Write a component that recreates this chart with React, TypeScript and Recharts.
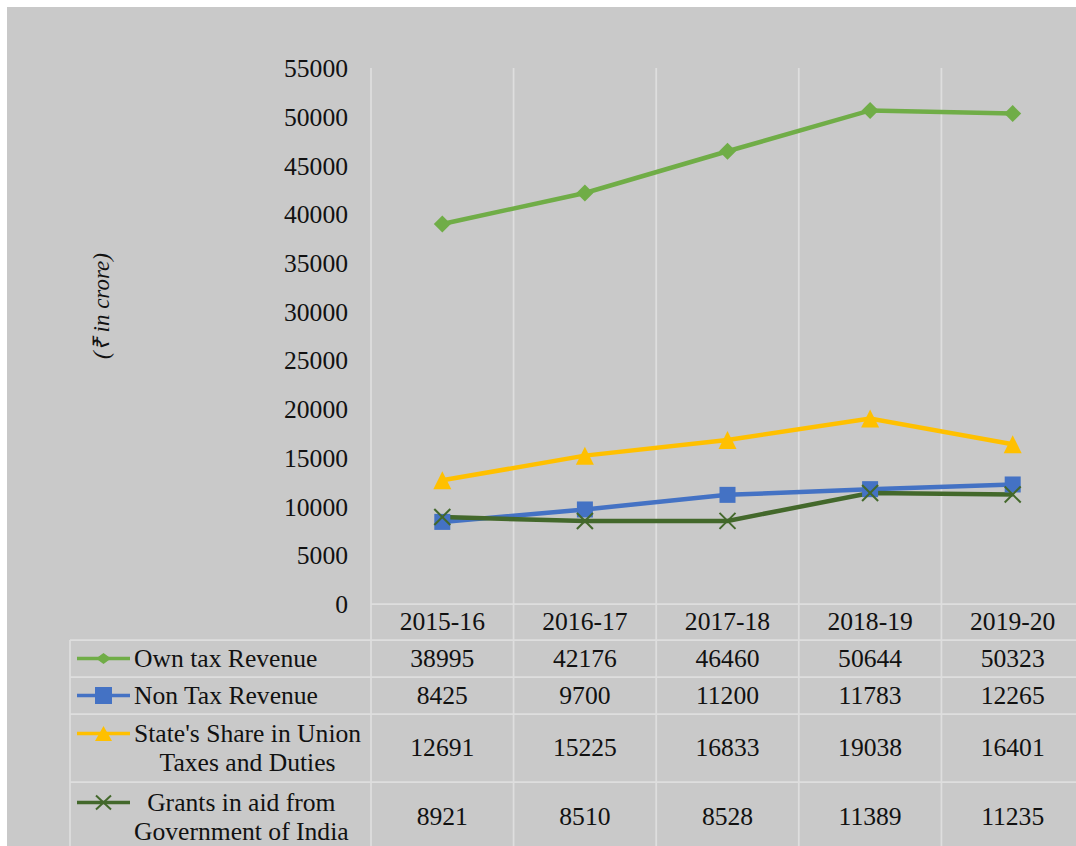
import React from 'react';
import { LineChart, Line, XAxis, YAxis, CartesianGrid } from 'recharts';

const YEARS = ['2015-16', '2016-17', '2017-18', '2018-19', '2019-20'];
const OWN_TAX = [38995, 42176, 46460, 50644, 50323];
const NON_TAX = [8425, 9700, 11200, 11783, 12265];
const UNION_SHARE = [12691, 15225, 16833, 19038, 16401];
const GRANTS = [8921, 8510, 8528, 11389, 11235];
const Y_TICKS = [0, 5000, 10000, 15000, 20000, 25000, 30000, 35000, 40000, 45000, 50000, 55000];

type MarkerKind = 'diamond' | 'square' | 'triangle' | 'cross';

const SERIES: { key: string; label: string[]; values: number[]; color: string; marker: MarkerKind }[] = [
  { key: 'own', label: ['Own tax Revenue'], values: OWN_TAX, color: '#70AD47', marker: 'diamond' },
  { key: 'nonTax', label: ['Non Tax Revenue'], values: NON_TAX, color: '#4472C4', marker: 'square' },
  { key: 'share', label: ["State's Share in Union", 'Taxes and Duties'], values: UNION_SHARE, color: '#FFC000', marker: 'triangle' },
  { key: 'grants', label: ['Grants in aid from', 'Government of India'], values: GRANTS, color: '#43682B', marker: 'cross' },
];

const data = YEARS.map((year, i) => {
  const row: Record<string, string | number> = { year };
  SERIES.forEach((s) => { row[s.key] = s.values[i]; });
  return row;
});

// layout (page pixels)
const PLOT_LEFT = 371;
const PLOT_RIGHT = 1084;
const PLOT_TOP = 68;
const PLOT_BOTTOM = 604;
const BAND = (PLOT_RIGHT - PLOT_LEFT) / YEARS.length;
const TABLE_LEFT = 70;
const ROW_EDGES = [604, 640, 677, 714, 782, 852];
const CHART_W = 1100;
const CHART_H = 846;

const FONT = '"Liberation Serif", "Times New Roman", serif';
const TEXT = '#111111';
const GRID = '#dedede';
const BG = '#c9c9c9';

function Marker({ kind, cx, cy, color, w, h }: { kind: MarkerKind; cx: number; cy: number; color: string; w: number; h: number }) {
  const hw = w / 2;
  const hh = h / 2;
  if (kind === 'diamond') {
    return <polygon points={`${cx},${cy - hh} ${cx + hw},${cy} ${cx},${cy + hh} ${cx - hw},${cy}`} fill={color} />;
  }
  if (kind === 'square') {
    return <rect x={cx - hw} y={cy - hh} width={w} height={h} fill={color} />;
  }
  if (kind === 'triangle') {
    return <polygon points={`${cx},${cy - hh} ${cx + hw},${cy + hh} ${cx - hw},${cy + hh}`} fill={color} />;
  }
  return (
    <g stroke={color} strokeWidth={2}>
      <line x1={cx - hw} y1={cy - hh} x2={cx + hw} y2={cy + hh} />
      <line x1={cx - hw} y1={cy + hh} x2={cx + hw} y2={cy - hh} />
    </g>
  );
}

const CHART_MARKER: Record<MarkerKind, [number, number]> = {
  diamond: [17, 17],
  square: [16, 16],
  triangle: [18, 18],
  cross: [16, 16],
};

const LEGEND_MARKER: Record<MarkerKind, [number, number]> = {
  diamond: [15, 11],
  square: [17, 17],
  triangle: [17, 15],
  cross: [15, 14],
};

function LegendKey({ kind, color }: { kind: MarkerKind; color: string }) {
  const [w, h] = LEGEND_MARKER[kind];
  return (
    <svg width={53} height={29} style={{ flex: 'none', marginRight: 4 }}>
      <line x1={0} y1={14.5} x2={53} y2={14.5} stroke={color} strokeWidth={3.5} strokeLinecap="round" />
      <Marker kind={kind} cx={26.5} cy={14.5} color={color} w={w} h={h} />
    </svg>
  );
}

export default function App() {
  const bandCenters = YEARS.map((_, i) => PLOT_LEFT + (i + 0.5) * BAND);
  const bandEdges = YEARS.map((_, i) => PLOT_LEFT + i * BAND).concat(PLOT_RIGHT);

  return (
    <div
      style={{
        position: 'fixed',
        left: 0,
        top: 0,
        width: 1076,
        height: 846,
        overflow: 'hidden',
        background: '#ffffff',
        fontFamily: FONT,
        color: TEXT,
      }}
    >
      <div style={{ position: 'absolute', left: 7, top: 7, width: 1100, height: 860, background: BG }} />

      {/* data table lines */}
      <svg width={CHART_W} height={CHART_H} style={{ position: 'absolute', left: 0, top: 0 }}>
        {ROW_EDGES.slice(0, -1).map((y, i) => (
          <line key={`h${i}`} x1={i === 0 ? PLOT_LEFT : TABLE_LEFT} y1={y} x2={CHART_W} y2={y} stroke={GRID} strokeWidth={1.75} />
        ))}
        <line x1={TABLE_LEFT} y1={ROW_EDGES[1]} x2={TABLE_LEFT} y2={CHART_H} stroke={GRID} strokeWidth={1.75} />
        {bandEdges.map((x, i) => (
          <line key={`v${i}`} x1={x} y1={PLOT_BOTTOM} x2={x} y2={CHART_H} stroke={GRID} strokeWidth={1.75} />
        ))}
      </svg>

      <div style={{ position: 'absolute', left: 0, top: 0 }}>
        <LineChart
          width={CHART_W}
          height={CHART_H}
          data={data}
          margin={{ top: PLOT_TOP, right: CHART_W - PLOT_RIGHT, bottom: CHART_H - PLOT_BOTTOM, left: 0 }}
        >
          <CartesianGrid horizontal={false} vertical verticalPoints={bandEdges} stroke={GRID} strokeWidth={1.75} />
          <XAxis dataKey="year" hide padding={{ left: BAND / 2, right: BAND / 2 }} />
          <YAxis
            width={PLOT_LEFT}
            domain={[0, 55000]}
            ticks={Y_TICKS}
            axisLine={false}
            tickLine={false}
            tickSize={0}
            tickMargin={23}
            interval={0}
            tick={{ fontSize: 25.6, fill: TEXT, fontFamily: FONT }}
          />
          {SERIES.map((s) => (
            <Line
              key={s.key}
              dataKey={s.key}
              name={s.label.join(' ')}
              stroke={s.color}
              strokeWidth={4.5}
              isAnimationActive={false}
              dot={(p: any) => (
                <Marker
                  key={`${s.key}-${p.index}`}
                  kind={s.marker}
                  cx={p.cx}
                  cy={p.cy}
                  color={s.color}
                  w={CHART_MARKER[s.marker][0]}
                  h={CHART_MARKER[s.marker][1]}
                />
              )}
              activeDot={false}
            />
          ))}
        </LineChart>
      </div>

      {/* y axis title */}
      <div
        style={{
          position: 'absolute',
          left: 100,
          top: 306,
          transform: 'translate(-50%, -50%) rotate(-90deg)',
          whiteSpace: 'nowrap',
          fontStyle: 'italic',
          fontSize: 23,
        }}
      >
        (₹ in crore)
      </div>

      {/* header row: categories */}
      {YEARS.map((y, i) => (
        <div
          key={y}
          style={{
            position: 'absolute',
            left: bandCenters[i] - BAND / 2,
            width: BAND,
            top: ROW_EDGES[0],
            height: ROW_EDGES[1] - ROW_EDGES[0],
            display: 'flex',
            alignItems: 'center',
            justifyContent: 'center',
            fontSize: 25.6,
          }}
        >
          {y}
        </div>
      ))}

      {/* series rows */}
      {SERIES.map((s, r) => {
        const top = ROW_EDGES[r + 1];
        const height = ROW_EDGES[r + 2] - top;
        return (
          <React.Fragment key={s.key}>
            <div
              style={{
                position: 'absolute',
                left: TABLE_LEFT + 7,
                top,
                height,
                display: 'flex',
                alignItems: 'center',
              }}
            >
              <div style={{ display: 'flex', alignItems: 'flex-start' }}>
                <LegendKey kind={s.marker} color={s.color} />
                <div style={{ textAlign: 'center', fontSize: 25.6, lineHeight: '29px', whiteSpace: 'nowrap' }}>
                  {s.label.map((l) => (
                    <div key={l}>{l}</div>
                  ))}
                </div>
              </div>
            </div>
            {s.values.map((v, i) => (
              <div
                key={`${s.key}-${i}`}
                style={{
                  position: 'absolute',
                  left: bandCenters[i] - BAND / 2,
                  width: BAND,
                  top,
                  height,
                  display: 'flex',
                  alignItems: 'center',
                  justifyContent: 'center',
                  fontSize: 25.6,
                }}
              >
                {v}
              </div>
            ))}
          </React.Fragment>
        );
      })}
    </div>
  );
}
